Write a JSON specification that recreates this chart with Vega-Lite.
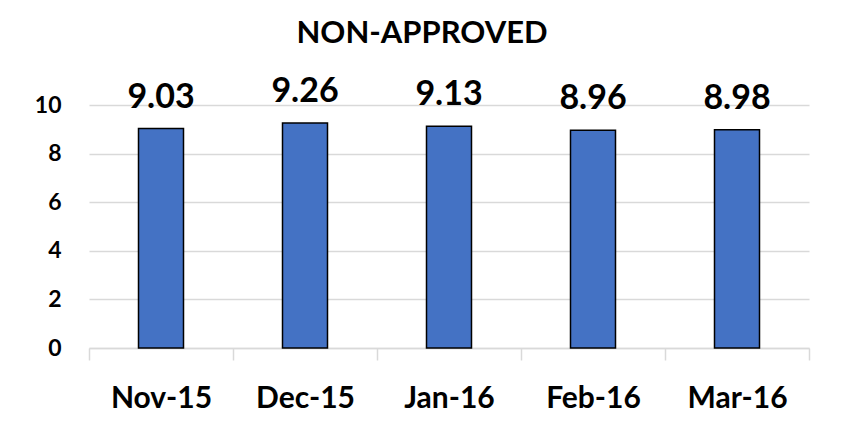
{
  "$schema": "https://vega.github.io/schema/vega-lite/v6.json",
  "width": 720,
  "height": 243,
  "autosize": "none",
  "padding": {"left": 89, "top": 105, "right": 33, "bottom": 83},
  "background": "white",
  "title": {
    "text": "NON-APPROVED",
    "font": "Lato",
    "fontSize": 31,
    "fontWeight": "bold",
    "color": "black",
    "anchor": "middle",
    "frame": "bounds",
    "offset": 25
  },
  "data": {
    "values": [
      {"month": "Nov-15", "value": 9.03},
      {"month": "Dec-15", "value": 9.26},
      {"month": "Jan-16", "value": 9.13},
      {"month": "Feb-16", "value": 8.96},
      {"month": "Mar-16", "value": 8.98}
    ]
  },
  "encoding": {
    "x": {
      "field": "month",
      "type": "nominal",
      "sort": null,
      "title": null,
      "scale": {"paddingInner": 0, "paddingOuter": 0},
      "axis": {
        "labelAngle": 0,
        "labelFont": "Lato",
        "labelFontSize": 30,
        "labelFontWeight": "bold",
        "labelColor": "black",
        "labelBaseline": "alphabetic",
        "labelPadding": 47,
        "tickBand": "extent",
        "tickSize": 12,
        "tickColor": "#d9d9d9",
        "tickWidth": 1.5,
        "domainColor": "#d9d9d9",
        "domainWidth": 1.5,
        "grid": false
      }
    },
    "y": {
      "field": "value",
      "type": "quantitative",
      "title": null,
      "scale": {"domain": [0, 10], "nice": false},
      "axis": {
        "values": [0, 2, 4, 6, 8, 10],
        "labelFont": "Lato",
        "labelFontSize": 23,
        "labelFontWeight": "bold",
        "labelColor": "black",
        "labelPadding": 28,
        "ticks": false,
        "domain": false,
        "gridColor": "#d9d9d9",
        "gridWidth": 1.5
      }
    }
  },
  "layer": [
    {
      "mark": {"type": "bar", "width": {"band": 0.3125}, "fill": "#4472C4", "stroke": "black", "strokeWidth": 1.5}
    },
    {
      "mark": {
        "type": "text",
        "baseline": "alphabetic",
        "dy": -21,
        "font": "Lato",
        "fontSize": 34,
        "fontWeight": "bold",
        "color": "black"
      },
      "encoding": {
        "text": {"field": "value", "type": "quantitative", "format": ".2f"}
      }
    }
  ],
  "config": {
    "view": {"stroke": null}
  }
}
